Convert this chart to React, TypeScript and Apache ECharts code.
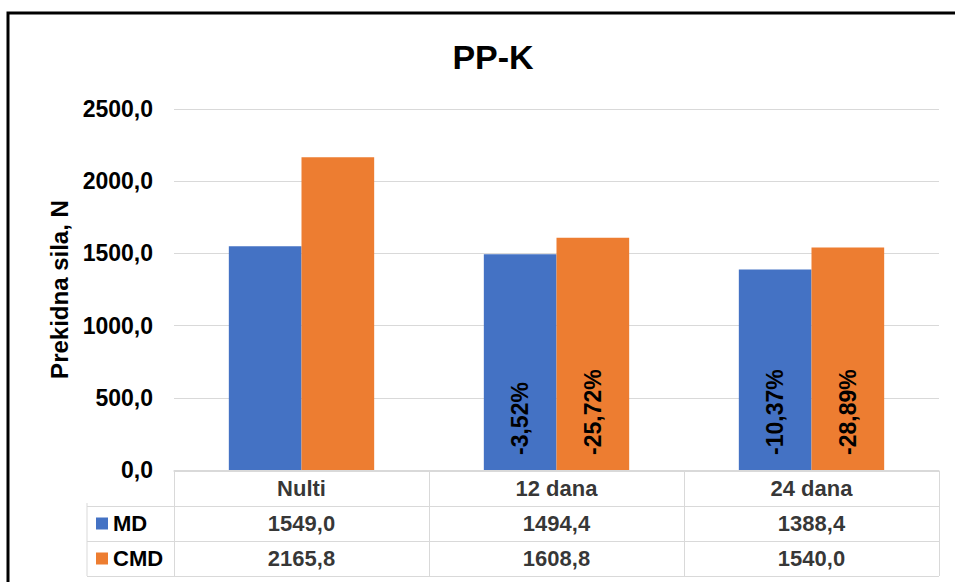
import React, { useEffect, useRef } from "react";
import * as echarts from "echarts";

const categories = ["Nulti", "12 dana", "24 dana"];
const seriesNames = ["MD", "CMD"];
const mdValues = [1549.0, 1494.4, 1388.4];
const cmdValues = [2165.8, 1608.8, 1540.0];
const seriesColors = ["#4472C4", "#ED7D31"];
const tableRows = ["", "MD", "CMD"];
const yMin = 0;
const yMax = 2500;
const yInterval = 500;

const FONT = "'Liberation Sans', Arial, sans-serif";
const GRID = "#d9d9d9";

const fmt = (v: number) => v.toFixed(1).replace(".", ",");
const pctLabels = (arr: number[]) =>
  arr.map((v, i) =>
    i === 0 ? "" : (((v - arr[0]) / arr[0]) * 100).toFixed(2).replace(".", ",") + "%"
  );

export default function App() {
  const ref = useRef<HTMLDivElement>(null);
  useEffect(() => {
    if (!ref.current) return;
    const chart = echarts.init(ref.current, null, { renderer: "svg" });
    const allValues = [mdValues, cmdValues];
    const labelsPerSeries = allValues.map(pctLabels);

    const tableData: any[] = [];
    categories.forEach((c, i) => {
      tableData.push({ value: [i, 0, c] });
      tableData.push({ value: [i, 1, fmt(mdValues[i])] });
      tableData.push({ value: [i, 2, fmt(cmdValues[i])] });
    });

    const barSeries = seriesNames.map((name, s) => ({
      name,
      type: "bar",
      xAxisIndex: 0,
      yAxisIndex: 0,
      data: allValues[s],
      barGap: "0%",
      barCategoryGap: "43%",
      itemStyle: { color: seriesColors[s] },
      label: {
        show: true,
        position: "insideBottom",
        rotate: 90,
        align: "left",
        verticalAlign: "middle",
        distance: 15,
        color: "#000",
        fontFamily: FONT,
        fontWeight: "bold",
        fontSize: 23,
        formatter: (p: any) => labelsPerSeries[s][p.dataIndex],
      },
    }));

    chart.setOption({
      animation: false,
      backgroundColor: "#fff",
      title: {
        text: "PP-K",
        left: 488,
        top: 35,
        textAlign: "center",
        textStyle: { fontFamily: FONT, fontWeight: "bold", fontSize: 34, color: "#000" },
      },
      grid: [
        { left: 174, right: 16, top: 109, bottom: 112 },
        { left: 174, right: 16, top: 471, height: 105 },
      ],
      xAxis: [
        {
          gridIndex: 0,
          type: "category",
          data: categories,
          axisLabel: { show: false },
          axisTick: { show: false },
          axisLine: { show: true, lineStyle: { color: GRID, width: 1 } },
        },
        {
          gridIndex: 1,
          type: "category",
          data: categories,
          position: "top",
          axisLabel: { show: false },
          axisTick: { show: false },
          axisLine: { show: true, lineStyle: { color: GRID, width: 1 } },
          splitLine: { show: true, interval: 0, lineStyle: { color: GRID, width: 1 } },
        },
      ],
      yAxis: [
        {
          gridIndex: 0,
          type: "value",
          min: yMin,
          max: yMax,
          interval: yInterval,
          name: "Prekidna sila, N",
          nameLocation: "middle",
          nameGap: 102,
          nameTextStyle: { fontFamily: FONT, fontWeight: "bold", fontSize: 24, color: "#000" },
          axisLabel: {
            formatter: (v: number) => fmt(v),
            fontFamily: FONT,
            fontWeight: "bold",
            fontSize: 23,
            color: "#000",
            margin: 21,
          },
          axisLine: { show: false },
          axisTick: { show: false },
          splitLine: { show: true, lineStyle: { color: GRID, width: 1 } },
        },
        {
          gridIndex: 1,
          type: "category",
          inverse: true,
          data: tableRows,
          axisLine: { show: false },
          axisTick: {
            show: true,
            length: 87,
            interval: (index: number) => index !== 0,
            lineStyle: { color: GRID, width: 1 },
          },
          splitLine: { show: true, interval: 0, lineStyle: { color: GRID, width: 1 } },
          axisLabel: {
            align: "left",
            margin: 78,
            formatter: (v: string) => {
              const k = seriesNames.indexOf(v);
              if (k < 0) return "";
              return `{sq${k}|}{t|${v}}`;
            },
            rich: {
              sq0: { width: 12, height: 12, backgroundColor: seriesColors[0] },
              sq1: { width: 12, height: 12, backgroundColor: seriesColors[1] },
              t: {
                fontFamily: FONT,
                fontWeight: "bold",
                fontSize: 22,
                color: "#000",
                padding: [0, 0, 0, 5],
              },
            },
          },
        },
      ],
      series: [
        ...barSeries,
        {
          type: "scatter",
          xAxisIndex: 1,
          yAxisIndex: 1,
          symbol: "rect",
          symbolSize: 1,
          itemStyle: { color: "rgba(0,0,0,0)" },
          data: tableData,
          label: {
            show: true,
            position: "inside",
            color: "#000",
            fontFamily: FONT,
            fontWeight: "bold",
            fontSize: 22,
            formatter: (p: any) => p.value[2],
          },
        },
      ],
      graphic: [
        {
          type: "line",
          shape: { x1: 87, y1: 503, x2: 87, y2: 576 },
          style: { stroke: GRID, lineWidth: 1 },
        },
        {
          type: "rect",
          shape: { x: 8, y: 13, width: 1200, height: 1200 },
          style: { fill: "none", stroke: "#000", lineWidth: 3 },
          z: 100,
        },
      ],
    });
    return () => chart.dispose();
  }, []);
  return (
    <div
      ref={ref}
      style={{ position: "fixed", left: 0, top: 0, width: 955, height: 582 }}
    />
  );
}
